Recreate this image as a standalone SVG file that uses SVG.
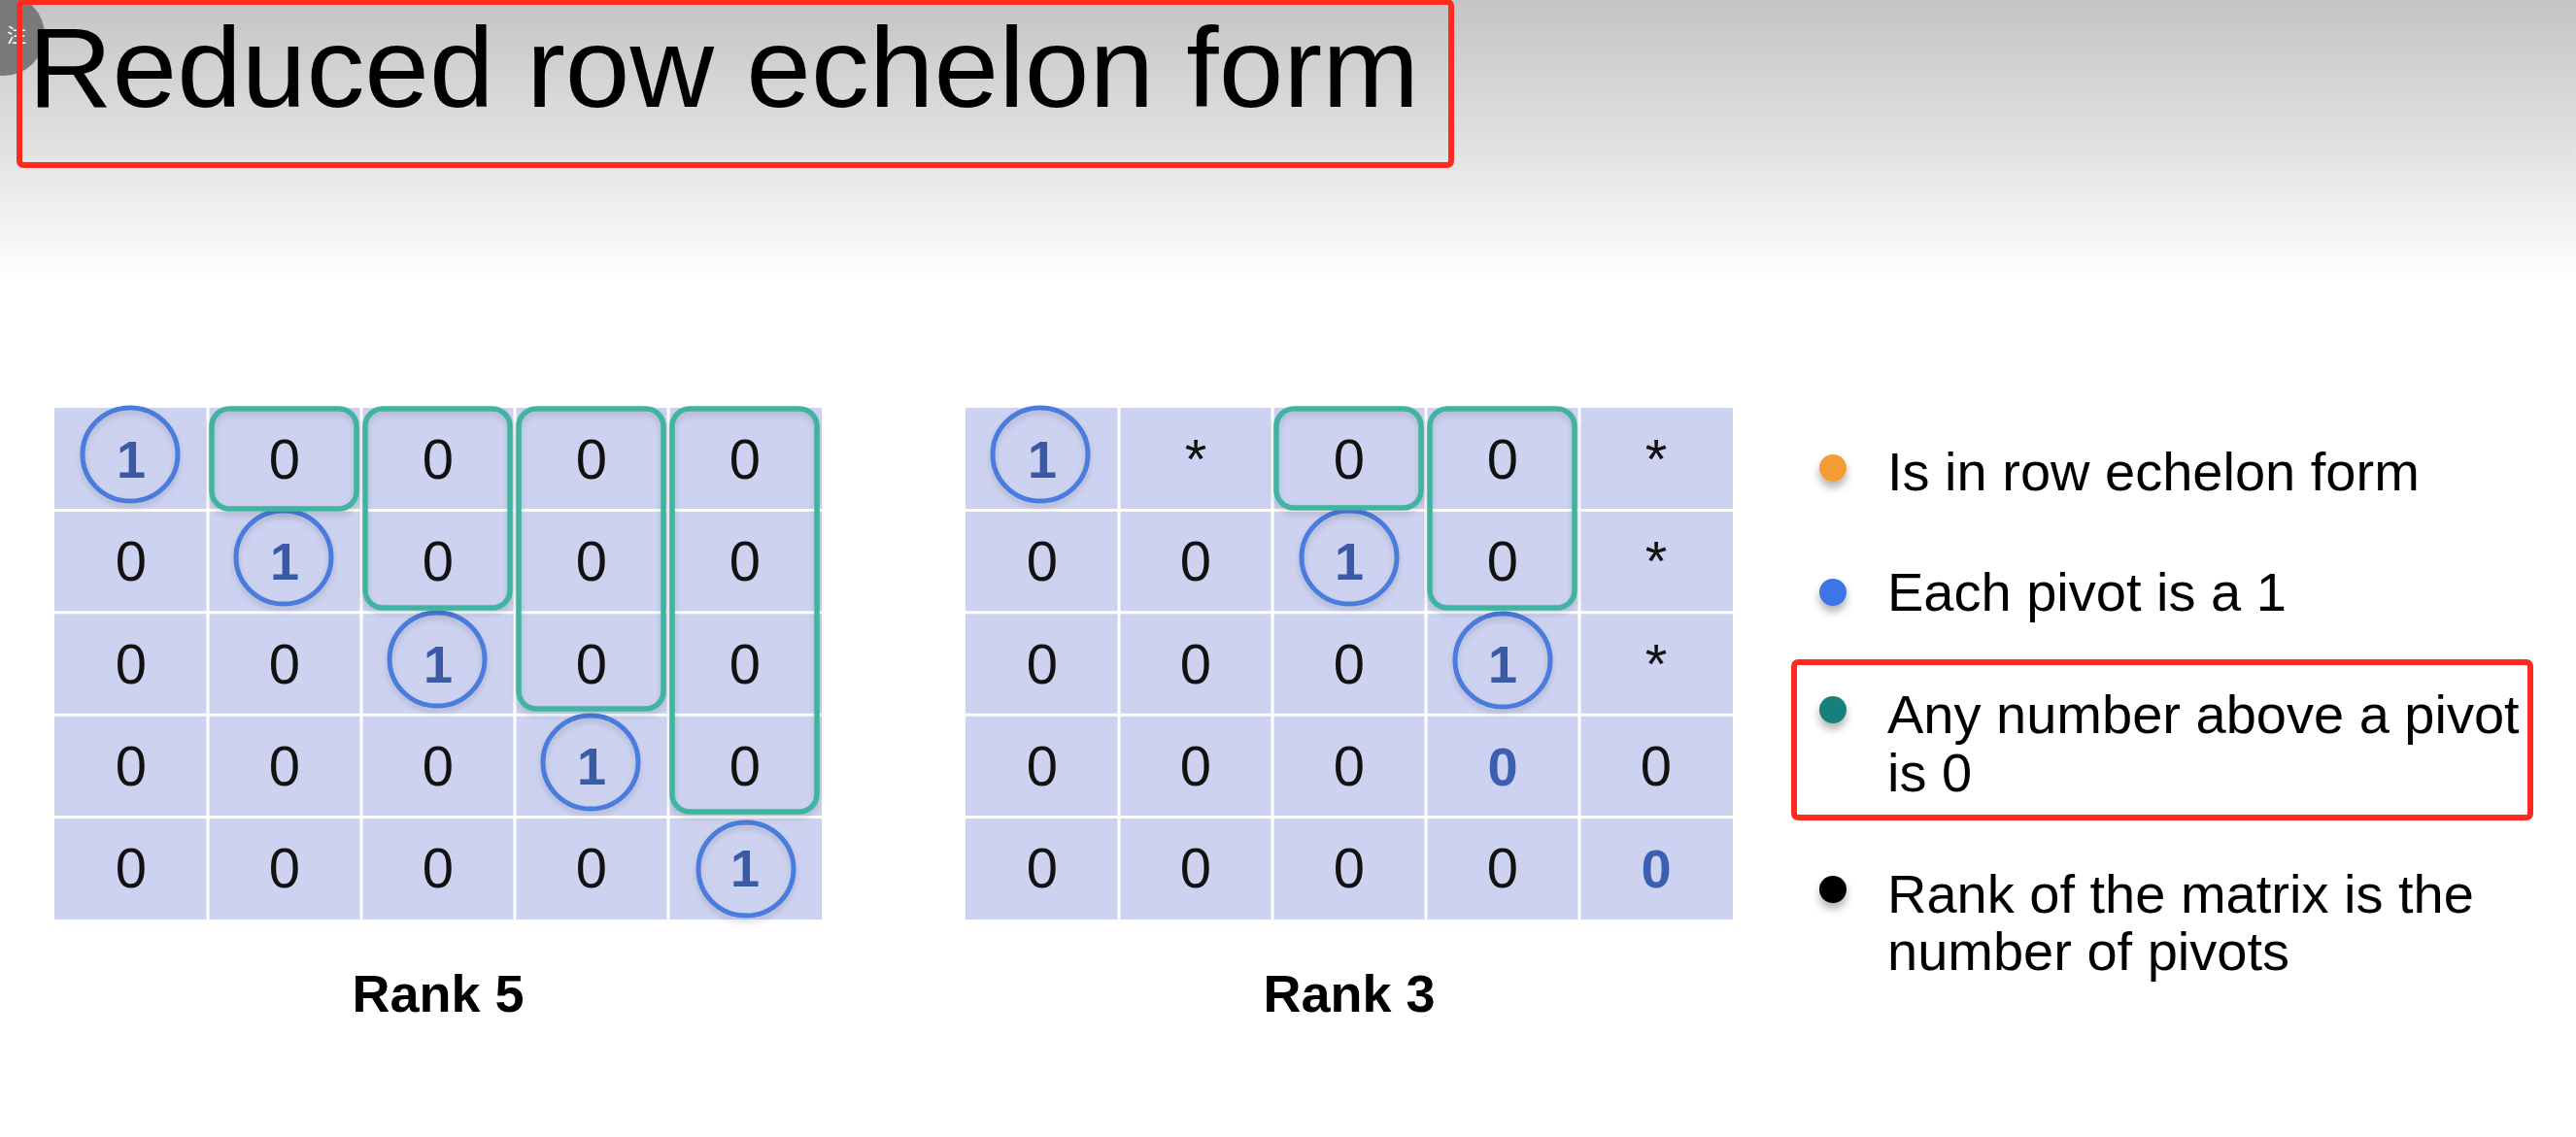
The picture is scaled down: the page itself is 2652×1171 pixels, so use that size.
<svg xmlns="http://www.w3.org/2000/svg" width="2652" height="1171" viewBox="0 0 2652 1171">
  <defs>
    <linearGradient id="topGrad" x1="0" y1="0" x2="0" y2="1">
      <stop offset="0" stop-color="#c4c4c4"/>
      <stop offset="0.55" stop-color="#e3e3e3"/>
      <stop offset="1" stop-color="#ffffff"/>
    </linearGradient>
    <filter id="shadow" x="-50%" y="-50%" width="200%" height="200%">
      <feDropShadow dx="0" dy="6" stdDeviation="4" flood-color="#000" flood-opacity="0.3"/>
    </filter>
    <filter id="softShadow" x="-20%" y="-20%" width="140%" height="140%">
      <feDropShadow dx="0" dy="4" stdDeviation="3" flood-color="#000" flood-opacity="0.15"/>
    </filter>
  </defs>
  <style>
    .cellbg { fill: #cdd2f1; }
    .grid { stroke: #ffffff; stroke-width: 3; }
    .num { font-family: "Liberation Sans", Arial, sans-serif; font-size: 58px; fill: #111111; text-anchor: middle; }
    .piv { font-family: "Liberation Sans", Arial, sans-serif; font-size: 54px; font-weight: bold; fill: #3a5aa6; text-anchor: middle; }
    .bz { font-family: "Liberation Sans", Arial, sans-serif; font-size: 56px; font-weight: bold; fill: #3c5fb2; text-anchor: middle; }
    .ring { fill: none; stroke: #4a7bdc; stroke-width: 5; filter: url(#softShadow); }
    .teal { fill: none; stroke: #3fb4a0; stroke-width: 5.5; filter: url(#softShadow); }
    .legend { font-family: "Liberation Sans", Arial, sans-serif; font-size: 56px; fill: #000000; }
    .caption { font-family: "Liberation Sans", Arial, sans-serif; font-size: 54px; font-weight: bold; fill: #000000; text-anchor: middle; }
    .redbox { fill: none; stroke: #ff2a1f; stroke-width: 6; }
  </style>

  <rect x="0" y="0" width="2652" height="1171" fill="#ffffff"/>
  <rect x="0" y="0" width="2652" height="290" fill="url(#topGrad)"/>

  <g id="badge">
    <circle cx="4" cy="36" r="42" fill="#7a7a7a"/>
    <text x="17" y="44" font-family="Noto Sans CJK SC, sans-serif" font-size="20" fill="#ffffff" text-anchor="middle">注</text>
  </g>

  <g id="title">
    <rect class="redbox" x="20" y="2" width="1474" height="168" rx="4"/>
    <text x="29" y="110" font-family="Liberation Sans, Arial, sans-serif" font-size="116" fill="#000000" textLength="1432" lengthAdjust="spacingAndGlyphs">Reduced row echelon form</text>
  </g>

  <g id="matrix-rank5">
    <rect class="cellbg" x="56" y="420" width="790" height="527"/>
    <g class="grid">
      <line x1="214" y1="420" x2="214" y2="947"/>
      <line x1="372" y1="420" x2="372" y2="947"/>
      <line x1="530" y1="420" x2="530" y2="947"/>
      <line x1="688" y1="420" x2="688" y2="947"/>
      <line x1="56" y1="525.4" x2="846" y2="525.4"/>
      <line x1="56" y1="630.8" x2="846" y2="630.8"/>
      <line x1="56" y1="736.2" x2="846" y2="736.2"/>
      <line x1="56" y1="841.6" x2="846" y2="841.6"/>
    </g>
    <!-- row 0 -->
    <text class="piv" x="135" y="492">1</text>
    <text class="num" x="293" y="493">0</text>
    <text class="num" x="451" y="493">0</text>
    <text class="num" x="609" y="493">0</text>
    <text class="num" x="767" y="493">0</text>
    <!-- row 1 -->
    <text class="num" x="135" y="598">0</text>
    <text class="piv" x="293" y="597">1</text>
    <text class="num" x="451" y="598">0</text>
    <text class="num" x="609" y="598">0</text>
    <text class="num" x="767" y="598">0</text>
    <!-- row 2 -->
    <text class="num" x="135" y="704">0</text>
    <text class="num" x="293" y="704">0</text>
    <text class="piv" x="451" y="703">1</text>
    <text class="num" x="609" y="704">0</text>
    <text class="num" x="767" y="704">0</text>
    <!-- row 3 -->
    <text class="num" x="135" y="809">0</text>
    <text class="num" x="293" y="809">0</text>
    <text class="num" x="451" y="809">0</text>
    <text class="piv" x="609" y="808">1</text>
    <text class="num" x="767" y="809">0</text>
    <!-- row 4 -->
    <text class="num" x="135" y="914">0</text>
    <text class="num" x="293" y="914">0</text>
    <text class="num" x="451" y="914">0</text>
    <text class="num" x="609" y="914">0</text>
    <text class="piv" x="767" y="913">1</text>
    <!-- pivots -->
    <ellipse class="ring" cx="134" cy="468" rx="49" ry="48"/>
    <ellipse class="ring" cx="292" cy="574" rx="49" ry="48"/>
    <ellipse class="ring" cx="450" cy="679" rx="49" ry="48"/>
    <ellipse class="ring" cx="608" cy="785" rx="49" ry="48"/>
    <ellipse class="ring" cx="768" cy="895" rx="49" ry="48"/>
    <!-- zero-above-pivot boxes -->
    <rect class="teal" x="218" y="421" width="149" height="103" rx="18"/>
    <rect class="teal" x="376" y="421" width="149" height="205" rx="18"/>
    <rect class="teal" x="534" y="421" width="149" height="309" rx="18"/>
    <rect class="teal" x="692" y="421" width="149" height="415" rx="18"/>
  </g>

  <g id="matrix-rank3">
    <rect class="cellbg" x="994" y="420" width="790" height="527"/>
    <g class="grid">
      <line x1="1152" y1="420" x2="1152" y2="947"/>
      <line x1="1310" y1="420" x2="1310" y2="947"/>
      <line x1="1468" y1="420" x2="1468" y2="947"/>
      <line x1="1626" y1="420" x2="1626" y2="947"/>
      <line x1="994" y1="525.4" x2="1784" y2="525.4"/>
      <line x1="994" y1="630.8" x2="1784" y2="630.8"/>
      <line x1="994" y1="736.2" x2="1784" y2="736.2"/>
      <line x1="994" y1="841.6" x2="1784" y2="841.6"/>
    </g>
    <!-- row 0 -->
    <text class="piv" x="1073" y="492">1</text>
    <text class="num" x="1231" y="493">*</text>
    <text class="num" x="1389" y="493">0</text>
    <text class="num" x="1547" y="493">0</text>
    <text class="num" x="1705" y="493">*</text>
    <!-- row 1 -->
    <text class="num" x="1073" y="598">0</text>
    <text class="num" x="1231" y="598">0</text>
    <text class="piv" x="1389" y="597">1</text>
    <text class="num" x="1547" y="598">0</text>
    <text class="num" x="1705" y="598">*</text>
    <!-- row 2 -->
    <text class="num" x="1073" y="704">0</text>
    <text class="num" x="1231" y="704">0</text>
    <text class="num" x="1389" y="704">0</text>
    <text class="piv" x="1547" y="703">1</text>
    <text class="num" x="1705" y="704">*</text>
    <!-- row 3 -->
    <text class="num" x="1073" y="809">0</text>
    <text class="num" x="1231" y="809">0</text>
    <text class="num" x="1389" y="809">0</text>
    <text class="bz" x="1547" y="809">0</text>
    <text class="num" x="1705" y="809">0</text>
    <!-- row 4 -->
    <text class="num" x="1073" y="914">0</text>
    <text class="num" x="1231" y="914">0</text>
    <text class="num" x="1389" y="914">0</text>
    <text class="num" x="1547" y="914">0</text>
    <text class="bz" x="1705" y="914">0</text>
    <!-- pivots -->
    <ellipse class="ring" cx="1071" cy="468" rx="49" ry="48"/>
    <ellipse class="ring" cx="1389" cy="574" rx="49" ry="48"/>
    <ellipse class="ring" cx="1547" cy="680" rx="49" ry="48"/>
    <!-- zero-above-pivot boxes -->
    <rect class="teal" x="1314" y="421" width="149" height="102" rx="18"/>
    <rect class="teal" x="1472" y="421" width="149" height="205" rx="18"/>
  </g>

  <g id="caption-rank5">
    <text class="caption" x="451" y="1042">Rank 5</text>
  </g>
  <g id="caption-rank3">
    <text class="caption" x="1389" y="1042">Rank 3</text>
  </g>

  <g id="legend-1">
    <circle cx="1887" cy="482" r="14" fill="#f39c38" filter="url(#shadow)"/>
    <text class="legend" x="1943" y="505">Is in row echelon form</text>
  </g>
  <g id="legend-2">
    <circle cx="1887" cy="610" r="14" fill="#3d74e6" filter="url(#shadow)"/>
    <text class="legend" x="1943" y="629">Each pivot is a 1</text>
  </g>
  <g id="legend-3">
    <rect class="redbox" x="1847" y="682" width="758" height="160" rx="4" stroke-width="5"/>
    <circle cx="1887" cy="731" r="14" fill="#15807a" filter="url(#shadow)"/>
    <text class="legend" x="1943" y="755">Any number above a pivot</text>
    <text class="legend" x="1943" y="815">is 0</text>
  </g>
  <g id="legend-4">
    <circle cx="1887" cy="916" r="14" fill="#000000" filter="url(#shadow)"/>
    <text class="legend" x="1943" y="940">Rank of the matrix is the</text>
    <text class="legend" x="1943" y="999">number of pivots</text>
  </g>

  <g id="connectors"/>
</svg>
